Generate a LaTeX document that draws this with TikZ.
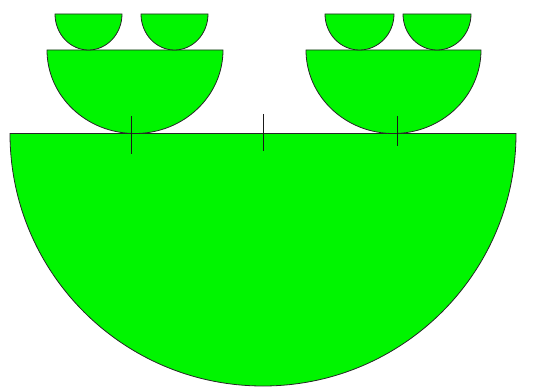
\documentclass[tikz,border=0pt]{standalone}
\definecolor{bowlgreen}{RGB}{0,245,0}
\tikzset{bowl/.style={fill=bowlgreen,draw=black!85,line width=0.8pt,line join=round},
  tick/.style={draw=black!90,line width=0.8pt}}
\begin{document}
\begin{tikzpicture}[x=1pt,y=-1pt]
\useasboundingbox (0,0) rectangle (533,387);
% big bowl
\path[bowl] (10,133.5) arc[start angle=180,end angle=0,x radius=253,y radius=252.5] -- cycle;
% medium bowls
\path[bowl] (47,50) arc[start angle=180,end angle=0,x radius=88,y radius=83.5] -- cycle;
\path[bowl] (306,50) arc[start angle=180,end angle=0,x radius=87.5,y radius=83.5] -- cycle;
% small bowls
\path[bowl] (55,14) arc[start angle=180,end angle=0,x radius=33.5,y radius=36] -- cycle;
\path[bowl] (141,14) arc[start angle=180,end angle=0,x radius=33.5,y radius=36] -- cycle;
\path[bowl] (325,14) arc[start angle=180,end angle=0,x radius=34.5,y radius=36] -- cycle;
\path[bowl] (403,14) arc[start angle=180,end angle=0,x radius=34,y radius=36] -- cycle;
% ticks
\path[tick] (131,116) -- (131,154);
\path[tick] (263,114) -- (263,151);
\path[tick] (397,116) -- (397,146);
\end{tikzpicture}
\end{document}
